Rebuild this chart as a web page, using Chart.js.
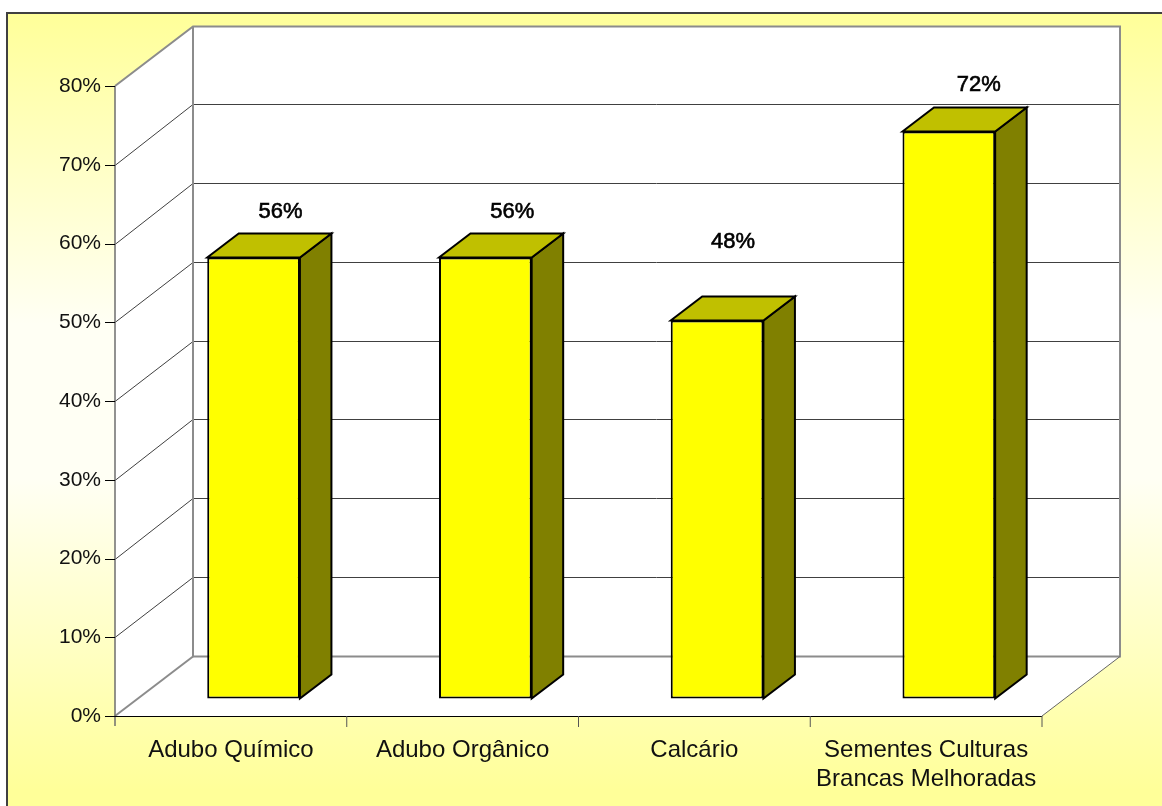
<!DOCTYPE html>
<html><head><meta charset="utf-8">
<script src="https://cdn.jsdelivr.net/npm/chart.js@4"></script>
<style>
html,body{margin:0;padding:0;background:#fff;overflow:hidden}
#frame{position:absolute;left:0;top:0;width:1162px;height:806px}
canvas{display:block}
</style></head><body>
<div id="frame"><canvas id="c" width="1162" height="806"></canvas></div>
<script>
const categories = [["Adubo Químico"],["Adubo Orgânico"],["Calcário"],["Sementes Culturas","Brancas Melhoradas"]];
const values = [56,56,48,72];
const valueLabels = ["56%","56%","48%","72%"];
const yMax = 80, yStep = 10;

const FONT = '"Liberation Sans", Arial, sans-serif';
const WALL = {dx:78, dy:-59.5};
const BAR_SHIFT = {dx:22.7, dy:-17.5};
const DEPTH = {dx:31.5, dy:-24};
const LABEL_OFFSET = [[27,-46],[27,-46],[16,-79],[30,-47]];

const scene = {
  id:'scene',
  beforeDraw(chart){
    const {ctx,width,height} = chart;
    ctx.save();
    ctx.fillStyle='#fff'; ctx.fillRect(0,0,width,height);
    const g = ctx.createLinearGradient(0,13,0,790);
    g.addColorStop(0,'#ffff99');
    g.addColorStop(0.4,'#fffff4');
    g.addColorStop(0.6,'#fffff4');
    g.addColorStop(1,'#ffff99');
    ctx.fillStyle=g;
    ctx.fillRect(7,13,1155,793);
    ctx.strokeStyle='#404040'; ctx.lineWidth=2;
    ctx.beginPath();ctx.moveTo(7,806);ctx.lineTo(7,13);ctx.lineTo(1162,13);ctx.stroke();
    ctx.restore();
  },
  beforeDatasetsDraw(chart){
    const {ctx,scales:{x,y}} = chart;
    const L=x.left,R=x.right,T=y.getPixelForValue(yMax),B=y.getPixelForValue(0);
    const {dx,dy}=WALL;
    ctx.save();
    ctx.fillStyle='#fff';
    ctx.beginPath();
    ctx.moveTo(L,B);ctx.lineTo(L,T);ctx.lineTo(L+dx,T+dy);ctx.lineTo(R+dx,T+dy);
    ctx.lineTo(R+dx,B+dy);ctx.lineTo(R,B);ctx.closePath();ctx.fill();
    ctx.lineWidth=1;ctx.strokeStyle='#404040';
    for(let v=yStep;v<yMax;v+=yStep){
      const p=y.getPixelForValue(v);
      const w=Math.floor(p+dy-.5)+.5;
      ctx.beginPath();ctx.moveTo(L,Math.round(p)+.5);ctx.lineTo(L+dx,w);ctx.lineTo(R+dx,w);ctx.stroke();
    }
    ctx.strokeStyle='#8c8c8c';ctx.lineWidth=2;
    ctx.beginPath();ctx.moveTo(L,T);ctx.lineTo(L+dx,T+dy);ctx.lineTo(R+dx,T+dy);ctx.lineTo(R+dx,B+dy);ctx.lineTo(L+dx,B+dy);ctx.lineTo(L+dx,T+dy);ctx.stroke();
    ctx.beginPath();ctx.moveTo(L,B);ctx.lineTo(L+dx,B+dy);ctx.stroke();
    ctx.lineWidth=1;ctx.strokeStyle='#666';
    ctx.beginPath();ctx.moveTo(R,B);ctx.lineTo(R+dx,B+dy);ctx.stroke();
    ctx.strokeStyle='#6e6e6e';ctx.lineWidth=1.5;
    ctx.beginPath();ctx.moveTo(L,T);ctx.lineTo(L,B+10);ctx.stroke();
    ctx.strokeStyle='#000';ctx.lineWidth=1;
    for(let v=0;v<=yMax;v+=yStep){
      const p=Math.round(y.getPixelForValue(v))+.5;
      ctx.beginPath();ctx.moveTo(L-10,p);ctx.lineTo(L,p);ctx.stroke();
    }
    ctx.beginPath();ctx.moveTo(L,Math.round(B)+.5);ctx.lineTo(R,Math.round(B)+.5);ctx.stroke();
    ctx.strokeStyle='#555';
    for(let i=1;i<=categories.length;i++){
      const t=L+(R-L)*i/categories.length;
      ctx.beginPath();ctx.moveTo(t,B);ctx.lineTo(t,B+11);ctx.stroke();
    }
    ctx.translate(BAR_SHIFT.dx,BAR_SHIFT.dy);
    chart.getDatasetMeta(0).data.forEach(el=>{
      const p=el.getProps(['x','y','base','width'],true);
      const l=p.x-p.width/2,r=p.x+p.width/2,t=p.y,b=p.base;
      ctx.lineJoin='miter';ctx.lineWidth=2;ctx.strokeStyle='#000';
      ctx.fillStyle='#808000';
      ctx.beginPath();ctx.moveTo(r,t);ctx.lineTo(r+DEPTH.dx,t+DEPTH.dy);ctx.lineTo(r+DEPTH.dx,b+DEPTH.dy);ctx.lineTo(r,b);ctx.closePath();ctx.fill();ctx.stroke();
      ctx.fillStyle='#c0c000';
      ctx.beginPath();ctx.moveTo(l,t);ctx.lineTo(l+DEPTH.dx,t+DEPTH.dy);ctx.lineTo(r+DEPTH.dx,t+DEPTH.dy);ctx.lineTo(r,t);ctx.closePath();ctx.fill();ctx.stroke();
    });
    ctx.restore();
    ctx.save();
    ctx.translate(BAR_SHIFT.dx,BAR_SHIFT.dy);
  },
  afterDatasetsDraw(chart){
    const {ctx}=chart;
    ctx.restore();
    ctx.save();
    ctx.fillStyle='#000';ctx.strokeStyle='#000';ctx.lineWidth=.6;
    ctx.font='22px '+FONT;ctx.textAlign='center';ctx.textBaseline='middle';
    chart.getDatasetMeta(0).data.forEach((el,i)=>{
      const p=el.getProps(['x','y'],true);
      const px=p.x+BAR_SHIFT.dx+LABEL_OFFSET[i][0], py=p.y+BAR_SHIFT.dy+LABEL_OFFSET[i][1];
      ctx.fillText(valueLabels[i],px,py,44);
      ctx.strokeText(valueLabels[i],px,py,44);
    });
    ctx.restore();
  }
};

new Chart(document.getElementById('c'),{
  type:'bar',
  plugins:[scene],
  data:{labels:categories,datasets:[{data:values,backgroundColor:'#ffff00',borderColor:'#000',borderWidth:2,borderSkipped:false,
    categoryPercentage:1,barPercentage:0.4,clip:false}]},
  options:{
    responsive:false,animation:false,
    layout:{padding:{left:0,right:120,top:86,bottom:0}},
    plugins:{legend:{display:false},tooltip:{enabled:false},title:{display:false}},
    scales:{
      x:{grid:{display:false},border:{display:false},
        afterFit(s){s.height=90;},
        ticks:{color:'#111',font:{family:FONT,size:24,lineHeight:1.2},padding:12,maxRotation:0,autoSkip:false}},
      y:{min:0,max:yMax,position:'left',
        afterFit(s){s.width=115;},
        grid:{display:false},border:{display:false},
        ticks:{stepSize:yStep,color:'#111',font:{family:FONT,size:21},padding:6,callback:v=>v+'%'}}
    }
  }
});
</script>
</body></html>
